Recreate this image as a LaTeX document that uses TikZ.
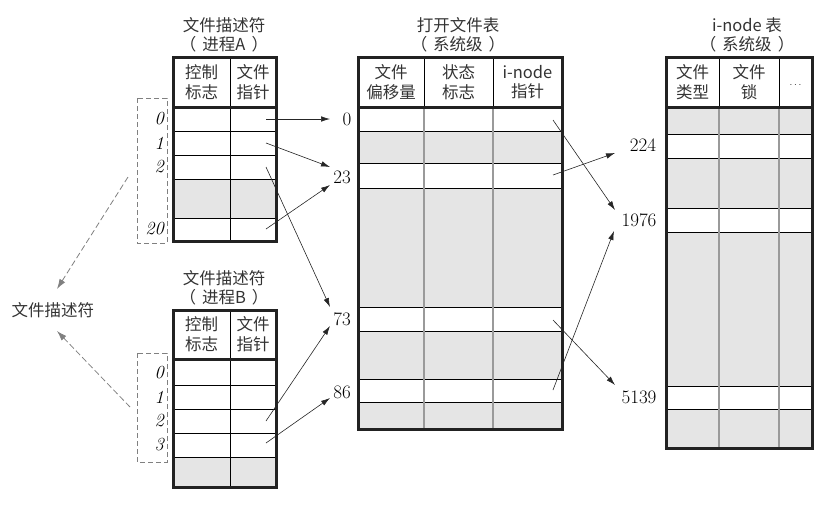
\documentclass[tikz,border=0pt]{standalone}
\usepackage{fontspec}
\newfontfamily\cjk{Noto Sans CJK SC}
\usetikzlibrary{arrows.meta}
\definecolor{txt}{HTML}{333333}
\definecolor{cellgray}{HTML}{E5E5E5}
\definecolor{divgray}{HTML}{9A9A9A}
\definecolor{bordercol}{HTML}{222222}
\newcommand{\pgap}{\hspace{6pt}}
\begin{document}
\begin{tikzpicture}[x=1pt,y=-1pt,
  cjktext/.style={text=txt,font=\cjk\fontsize{16.5}{19.5}\selectfont,inner sep=0pt,align=center},
  numtext/.style={text=black,font=\fontsize{19}{19}\selectfont,inner sep=0pt},
  idxtext/.style={text=black,font=\fontsize{18.5}{18.5}\selectfont\itshape,inner sep=0pt,anchor=east},
  ptr/.style={draw=black!85,line width=0.6pt,-{Latex[length=9pt,width=5.5pt]}},
  dashptr/.style={draw=black!50,line width=0.8pt,dash pattern=on 6pt off 3pt,-{Latex[length=10pt,width=6.5pt]}},
  rowline/.style={draw=black,line width=0.9pt},
  border/.style={draw=bordercol,line width=3pt},
  dashbox/.style={draw=black!50,line width=0.8pt,dash pattern=on 5pt off 3pt}
]
\useasboundingbox (0,0) rectangle (831,507);

% ---------------- Table A ----------------
\fill[white] (173,107) rectangle (276,241);
\fill[cellgray] (173,179) rectangle (276,218);
\foreach \y in {131,155,179,218} \draw[rowline] (173,\y) -- (276,\y);
\draw[line width=1pt] (230,57) -- (230,241);
\draw[border] (173,57) rectangle (276,241);
\draw[border] (173,107) -- (276,107);
\node[cjktext] at (224,25) {文件描述符};
\node[cjktext] at (224,44) {（\pgap 进程A\pgap ）};
\node[cjktext] at (201.5,82) {控制\\标志};
\node[cjktext] at (253,82) {文件\\指针};
\draw[dashbox] (137,98) rectangle (167,243);
\node[idxtext] at (164,119) {0};
\node[idxtext] at (164,143) {1};
\node[idxtext] at (164,167) {2};
\node[idxtext] at (164,229) {20};

% ---------------- Table B ----------------
\fill[white] (173,359) rectangle (276,487);
\fill[cellgray] (173,457) rectangle (276,487);
\foreach \y in {385,409,433,457} \draw[rowline] (173,\y) -- (276,\y);
\draw[line width=1pt] (230,310) -- (230,487);
\draw[border] (173,310) rectangle (276,487);
\draw[border] (173,359) -- (276,359);
\node[cjktext] at (224,278) {文件描述符};
\node[cjktext] at (224,297) {（\pgap 进程B\pgap ）};
\node[cjktext] at (201.5,334) {控制\\标志};
\node[cjktext] at (253,334) {文件\\指针};
\draw[dashbox] (137,353) rectangle (167,462);
\node[idxtext] at (164,373) {0};
\node[idxtext] at (164,397) {1};
\node[idxtext] at (164,421) {2};
\node[idxtext] at (164,445) {3};

% left label
\node[cjktext] (fdlabel) at (53,310) {文件描述符};
\coordinate (dA) at (128,177);
\coordinate (dB) at (130,407);
\coordinate (dAend) at (57,289);
\coordinate (dBend) at (57,331);
\draw[dashptr] (dA) -- (dAend);
\draw[dashptr] (dB) -- (dBend);

% ---------------- Open file table ----------------
\fill[white] (358,107) rectangle (562,429);
\fill[cellgray] (358,131) rectangle (562,163);
\fill[cellgray] (358,188) rectangle (562,307);
\fill[cellgray] (358,331) rectangle (562,379);
\fill[cellgray] (358,402) rectangle (562,429);
\foreach \y in {131,163,188,307,331,379,402} \draw[rowline] (358,\y) -- (562,\y);
\draw[divgray,line width=1.2pt] (424,107) -- (424,429);
\draw[divgray,line width=1.2pt] (493,107) -- (493,429);
\draw[line width=1pt] (424,57) -- (424,107);
\draw[line width=1pt] (493,57) -- (493,107);
\draw[border] (358,57) rectangle (562,429);
\draw[border] (358,107) -- (562,107);
\node[cjktext] at (458,25) {打开文件表};
\node[cjktext] at (458,44) {（\pgap 系统级\pgap ）};
\node[cjktext] at (391,82) {文件\\偏移量};
\node[cjktext] at (458.5,82) {状态\\标志};
\node[cjktext] at (527.5,82) {i-node\\指针};

% ---------------- i-node table ----------------
\fill[cellgray] (666,107) rectangle (812,448);
\fill[white] (666,134) rectangle (812,158);
\fill[white] (666,208) rectangle (812,232);
\fill[white] (666,386) rectangle (812,409);
\foreach \y in {134,158,208,232,386,409} \draw[rowline] (666,\y) -- (812,\y);
\draw[divgray,line width=1.2pt] (719,107) -- (719,448);
\draw[divgray,line width=1.2pt] (779,107) -- (779,448);
\draw[line width=1pt] (719,57) -- (719,107);
\draw[line width=1pt] (779,57) -- (779,107);
\draw[border] (666,57) rectangle (812,448);
\draw[border] (666,107) -- (812,107);
\node[cjktext] at (747,25) {i-node 表};
\node[cjktext] at (747,44) {（\pgap 系统级\pgap ）};
\node[cjktext] at (692.5,82) {文件\\类型};
\node[cjktext] at (749,82) {文件\\锁};
\node[text=black!85,inner sep=0pt,font=\fontsize{10}{10}\selectfont] at (795.5,85) {$\cdots$};

% ---------------- numbers ----------------
\node[numtext] (n0) at (347,119) {0};
\node[numtext] (n23) at (342,177) {23};
\node[numtext] (n73) at (342,319) {73};
\node[numtext] (n86) at (342,392) {86};
\node[numtext] (n224) at (643,145) {224};
\node[numtext] (n1976) at (639,220) {1976};
\node[numtext] (n5139) at (639,397) {5139};

% ---------------- pointers: fd tables -> open file table ----------------
\coordinate (a0) at (266,119);
\coordinate (a1) at (266,143);
\coordinate (a2) at (266,167);
\coordinate (a20) at (266,229);
\coordinate (b2) at (266,421);
\coordinate (b3) at (266,443);
\coordinate (t0) at (330,119);
\coordinate (t23a) at (330,167);
\coordinate (t23b) at (330,185);
\coordinate (t73a) at (330,307);
\coordinate (t73b) at (330,326);
\coordinate (t86) at (330,398);
\draw[ptr] (a0) -- (t0);
\draw[ptr] (a1) -- (t23a);
\draw[ptr] (a20) -- (t23b);
\draw[ptr] (a2) -- (t73a);
\draw[ptr] (b2) -- (t73b);
\draw[ptr] (b3) -- (t86);

% ---------------- pointers: open file table -> i-node ----------------
\coordinate (o0) at (553,120);
\coordinate (o23) at (553,175);
\coordinate (o73) at (553,320);
\coordinate (o86) at (553,390);
\coordinate (i224) at (615,153);
\coordinate (i1976a) at (615,210);
\coordinate (i1976b) at (614,231);
\coordinate (i5139) at (615,385);
\draw[ptr] (o0) -- (i1976a);
\draw[ptr] (o23) -- (i224);
\draw[ptr] (o73) -- (i5139);
\draw[ptr] (o86) -- (i1976b);
\end{tikzpicture}
\end{document}
